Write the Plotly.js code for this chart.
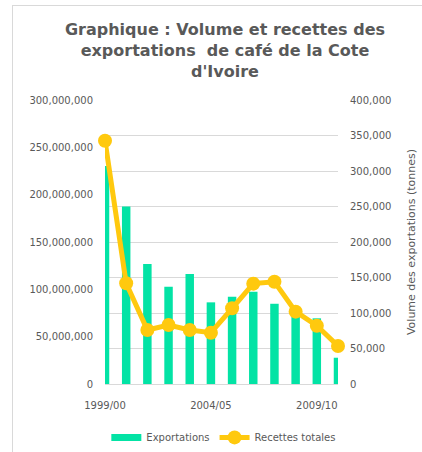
<!DOCTYPE html>
<html>
<head>
<meta charset="utf-8">
<script src="https://cdn.plot.ly/plotly-3.0.1.min.js"></script>
<style>
  html, body { margin: 0; padding: 0; background: #fff; overflow: hidden; }
  #frame { position: absolute; left: 12px; top: 5px; width: 600px; height: 600px;
           border-left: 1px solid #d9d9d9; border-top: 1px solid #d9d9d9; }
  #chart { position: absolute; left: 0; top: 0; width: 422px; height: 480px; }
</style>
</head>
<body>
<div id="frame"></div>
<div id="chart"></div>
<script>
// Campaign years
const campagnes = ["1999/00","2000/01","2001/02","2002/03","2003/04","2004/05",
                   "2005/06","2006/07","2007/08","2008/09","2009/10","2010/11"];
// Volume des exportations (tonnes) - bars, right axis
const exportations = [307000, 250000, 169000, 137000, 155000, 115000,
                      123000, 130000, 113000, 100000, 92500, 37000];
// Recettes totales - line, left axis
const recettes = [257000000, 106400000, 57000000, 62300000, 57000000, 54200000,
                  80000000, 106000000, 108000000, 76400000, 61600000, 40100000];
const tickCampagnes = ["1999/00","2004/05","2009/10"];

const grey = "#595959";
const green = "#03E3A5";
const gold = "#FFC90E";
const font = "DejaVu Sans, Verdana, sans-serif";

const traces = [
  {
    type: "bar", name: "Exportations", x: campagnes, y: exportations,
    yaxis: "y", marker: { color: green }, showlegend: false
  },
  {
    // legend entry only (wide rectangle swatch like the original)
    type: "scatter", mode: "lines", name: "Exportations",
    x: [null], y: [null], yaxis: "y",
    line: { color: green, width: 7 }, hoverinfo: "skip"
  },
  {
    type: "scatter", mode: "lines+markers", name: "Recettes totales",
    x: campagnes, y: recettes, yaxis: "y2", cliponaxis: false,
    line: { color: gold, width: 5 },
    marker: { color: gold, size: 14 }
  }
];

const layout = {
  width: 422, height: 480,
  margin: { l: 105, r: 84, t: 100, b: 96 },
  paper_bgcolor: "rgba(0,0,0,0)", plot_bgcolor: "rgba(0,0,0,0)",
  font: { family: font, color: grey, size: 10 },
  title: {
    text: "<b>Graphique : Volume et recettes des<br>exportations  de café de la Cote<br>d'Ivoire</b>",
    font: { family: font, size: 16, color: grey },
    x: 225 / 422, xanchor: "center", xref: "container",
    y: 1 - 35 / 480, yanchor: "top", yref: "container"
  },
  showlegend: true,
  legend: {
    orientation: "h", x: 0.51, xanchor: "center", y: -0.137, yanchor: "top",
    font: { family: font, size: 10, color: grey }, itemwidth: 30
  },
  bargap: 0.6,
  xaxis: {
    type: "category", range: [0, 11],
    tickmode: "array", tickvals: tickCampagnes, ticktext: tickCampagnes,
    showgrid: false, zeroline: false, showline: false, ticks: "",
    ticklabelstandoff: 14,
    tickfont: { family: font, size: 10, color: grey }
  },
  yaxis: {
    side: "right", range: [0, 400000], dtick: 50000, tickformat: ",d",
    showgrid: true, gridcolor: "#d9d9d9", gridwidth: 1,
    zeroline: true, zerolinecolor: "#d9d9d9", zerolinewidth: 1,
    showline: false, ticks: "", ticklabelstandoff: 11,
    tickfont: { family: font, size: 10, color: grey },
    title: { text: "Volume des exportations (tonnes)", standoff: 16,
             font: { family: font, size: 11, color: grey } }
  },
  yaxis2: {
    overlaying: "y", side: "left", range: [0, 300000000], dtick: 50000000,
    tickformat: ",d", showgrid: false, zeroline: false, showline: false,
    ticks: "", ticklabelstandoff: 11,
    tickfont: { family: font, size: 10, color: grey }
  }
};

Plotly.newPlot("chart", traces, layout, { displayModeBar: false, responsive: false });
</script>
</body>
</html>
